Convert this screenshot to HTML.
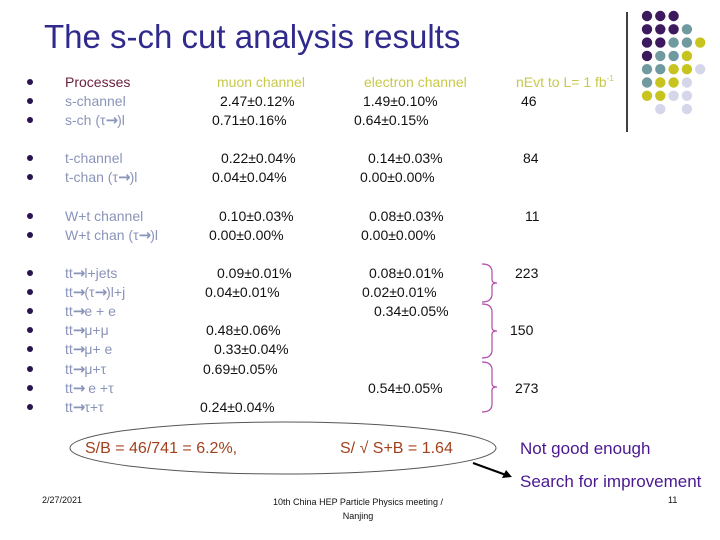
<!DOCTYPE html>
<html><head><meta charset="utf-8"><style>
body{margin:0;width:720px;height:540px;background:#fff;position:relative;overflow:hidden;font-family:"Liberation Sans",sans-serif}
.t{position:absolute;font-size:14px;line-height:16px;white-space:nowrap;color:#111}
.b{position:absolute;left:27px;width:6px;height:6px;border-radius:50%;background:#2a1450}
.ar{font-weight:bold;font-size:15px;font-family:"DejaVu Sans",sans-serif;letter-spacing:-1px}
sup{font-size:8px;line-height:0;vertical-align:6px}
</style></head><body>
<div class="t" style="left:44px;top:18px;font-size:33px;line-height:38px;color:#2f2a8c">The s-ch cut analysis results</div>
<svg style="position:absolute;left:0;top:0" width="720" height="540">
<line x1="627" y1="12" x2="627" y2="132" stroke="#000" stroke-width="1.5"/>
<g id="dots"></g>
<g fill="none" stroke="#b04aa8" stroke-width="1.2">
<path d="M482,264 q10,0 10,8 v8 q0,3 5,3 q-5,0 -5,3 v8 q0,8 -10,8"/>
<path d="M482,304 q10,0 10,8 v16 q0,3 5,3 q-5,0 -5,3 v16 q0,8 -10,8"/>
<path d="M482,362 q10,0 10,8 v14 q0,3 5,3 q-5,0 -5,3 v14 q0,8 -10,8"/>
</g>
<ellipse cx="283" cy="448" rx="213" ry="26" fill="none" stroke="#555" stroke-width="1"/>
<line x1="473" y1="463" x2="506" y2="475" stroke="#000" stroke-width="2"/>
<polygon points="512,477 502,478 506,470" fill="#000"/>
</svg>
<div id="rows"></div>
<div class="t" style="left:85px;top:440px;font-size:16px;line-height:18px;color:#a3401c">S/B = 46/741 = 6.2%,</div>
<div class="t" style="left:340px;top:440px;font-size:16px;line-height:18px;color:#a3401c">S/ √ S+B = 1.64</div>
<div class="t" style="left:520px;top:439px;font-size:17px;line-height:20px;color:#4a1890">Not good enough</div>
<div class="t" style="left:520px;top:472px;font-size:17px;line-height:20px;color:#4a1890">Search for improvement</div>
<div class="t" style="left:42px;top:495px;font-size:9px;line-height:11px">2/27/2021</div>
<div class="t" style="left:258px;top:495px;width:200px;text-align:center;font-size:9px;line-height:14px;white-space:normal">10th China HEP Particle Physics meeting / Nanjing</div>
<div class="t" style="left:668px;top:495px;font-size:9px;line-height:11px">11</div>
<script>
const dotRows=["PPP","PPPT","PPTTY","PTTY","TTYYL","TYYL","YYLL"," L L"];
const col={P:"#3d1a5e",T:"#6f9aa0",Y:"#c8c41f",L:"#d6d6ea"};
const g=document.getElementById('dots');
dotRows.forEach((r,i)=>{[...r].forEach((c,j)=>{if(c===' ')return;
const e=document.createElementNS('http://www.w3.org/2000/svg','circle');


e.setAttribute('cx',647+j*13.3);e.setAttribute('cy',16+i*13.3);e.setAttribute('r',5.2);e.setAttribute('fill',col[c]);g.appendChild(e);});});
const A="<span class='ar'>→</span>";
const rows=[
[82,"Processes","muon channel",217,"electron channel",364,"nEvt to L= 1 fb<sup>-1</sup>",516,1],
[101,"s-channel","2.47±0.12%",220,"1.49±0.10%",363,"46",521],
[120,"s-ch (τ"+A+")l","0.71±0.16%",212,"0.64±0.15%",354,"",0],
[158,"t-channel","0.22±0.04%",221,"0.14±0.03%",368,"84",523],
[177,"t-chan (τ"+A+")l","0.04±0.04%",212,"0.00±0.00%",360,"",0],
[216,"W+t channel","0.10±0.03%",219,"0.08±0.03%",369,"11",525],
[235,"W+t chan (τ"+A+")l","0.00±0.00%",209,"0.00±0.00%",361,"",0],
[273,"tt"+A+"l+jets","0.09±0.01%",217,"0.08±0.01%",369,"223",515],
[292,"tt"+A+"(τ"+A+")l+j","0.04±0.01%",205,"0.02±0.01%",362,"",0],
[311,"tt"+A+"e + e","",0,"0.34±0.05%",374,"",0],
[330,"tt"+A+"μ+μ","0.48±0.06%",206,"",0,"150",510],
[349,"tt"+A+"μ+ e","0.33±0.04%",214,"",0,"",0],
[369,"tt"+A+"μ+τ","0.69±0.05%",203,"",0,"",0],
[388,"tt"+A+" e +τ","",0,"0.54±0.05%",368,"273",515],
[407,"tt"+A+"τ+τ","0.24±0.04%",200,"",0,"",0]];
const R=document.getElementById('rows');
function add(name,x,y,html,color){const d=document.createElement('div');


d.className='t';d.style.left=x+'px';d.style.top=(y-8)+'px';if(color)d.style.color=color;d.innerHTML=html;R.appendChild(d);}
rows.forEach(r=>{const y=r[0],h=r[8];
const b=document.createElement('div');b.className='b';b.style.top=(y-3)+'px';

R.appendChild(b);
add('process-label',65,y,r[1],h?'#6a1f3c':'#8a94b8');
if(r[2])add('muon-value',r[3],y,r[2],h?'#c8c84a':null);
if(r[4])add('electron-value',r[5],y,r[4],h?'#c8c84a':null);
if(r[6])add('nevt-value',r[7],y,r[6],h?'#c8c84a':null);});
</script>
</body></html>
